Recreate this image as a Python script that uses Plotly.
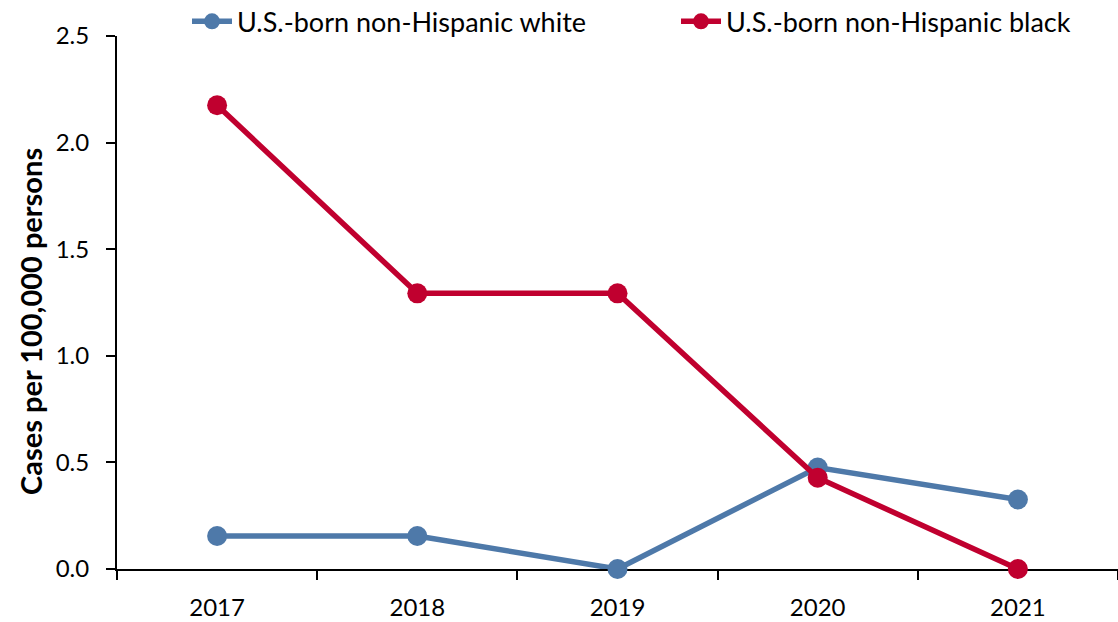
import plotly.graph_objects as go

years = ["2017", "2018", "2019", "2020", "2021"]
white = [0.155, 0.155, 0.0, 0.476, 0.326]
black = [2.175, 1.293, 1.293, 0.428, 0.0]
y_title = "Cases per 100,000 persons"

FONT = "Lato, Carlito, Calibri, sans-serif"

fig = go.Figure()
fig.add_trace(go.Scatter(x=years, y=white, name="U.S.-born non-Hispanic white",
                         mode="lines+markers", line=dict(color="#4E79A9", width=5.5),
                         marker=dict(size=20, color="#4E79A9"), cliponaxis=False,
                         legend="legend"))
fig.add_trace(go.Scatter(x=years, y=black, name="U.S.-born non-Hispanic black",
                         mode="lines+markers", line=dict(color="#C0002F", width=5.5),
                         marker=dict(size=20, color="#C0002F"), cliponaxis=False,
                         legend="legend2"))

leg_common = dict(orientation="h", xref="container", yref="container", xanchor="left",
                  y=0.965, yanchor="middle", font=dict(size=27), itemwidth=40,
                  bgcolor="rgba(0,0,0,0)")

fig.update_layout(
    width=1118, height=622,
    margin=dict(l=117, r=0, t=36, b=53, autoexpand=False),
    paper_bgcolor="white", plot_bgcolor="white",
    font=dict(family=FONT, size=24, color="black"),
    legend=dict(x=187 / 1118, **leg_common),
    legend2=dict(x=676 / 1118, **leg_common),
    showlegend=True,
    annotations=[dict(text="<b>" + y_title + "</b>", textangle=-90, xref="paper", yref="paper",
                      x=-117 / 1001 + 30 / 1001, y=(569 - 322) / 533, xanchor="center",
                      yanchor="middle", showarrow=False, font=dict(size=29))],
)
fig.update_xaxes(type="category", range=[-0.5, 4.5], showline=True, linecolor="black", linewidth=2,
                 ticks="outside", tickson="boundaries", ticklen=9, tickwidth=2, tickcolor="black",
                 showgrid=False, layer="below traces", tickfont=dict(size=24),
                 ticklabelstandoff=16)
fig.update_yaxes(range=[0, 2.5], dtick=0.5, tickformat=".1f", showline=True, linecolor="black",
                 linewidth=2, ticks="outside", ticklen=9, tickwidth=2, tickcolor="black",
                 showgrid=False, zeroline=False, layer="below traces", tickfont=dict(size=24),
                 ticklabelstandoff=12)

fig.write_html("out.html")
